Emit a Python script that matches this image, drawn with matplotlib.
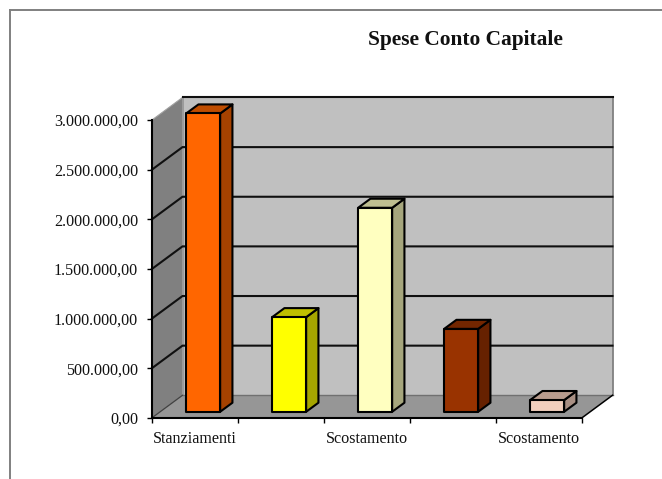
import matplotlib
matplotlib.use("Agg")
import matplotlib.pyplot as plt
from matplotlib.patches import Polygon

plt.rcParams['font.family'] = ['Liberation Serif', 'DejaVu Serif']

TITLE = 'Spese Conto Capitale'
categories = ['Stanziamenti', '', 'Scostamento', '', 'Scostamento']
values = [3005000, 953000, 2055000, 835000, 118000]
y_ticks = [0, 500000, 1000000, 1500000, 2000000, 2500000, 3000000]
y_labels = ['0,00', '500.000,00', '1.000.000,00', '1.500.000,00',
            '2.000.000,00', '2.500.000,00', '3.000.000,00']
front_colors = ['#FF6600', '#FFFF00', '#FFFFC0', '#993300', '#F2CFBD']
side_colors = ['#A64200', '#A6A600', '#A6A67D', '#662100', '#A88F83']
top_colors = ['#BF4D00', '#BFBF00', '#BFBF90', '#732600', '#B89C8E']

W, H = 662, 479
# depth of the 3d box, in data units
DEPTH_X = 30.5 / 86
DEPTH_Y = 22.5 / 49.6 * 500000
BAR_WIDTH = 34 / 86
BAR_Z0, BAR_Z1 = 0.267, 0.67
YMAX = 3000000


def proj(x, y, z):
    return (x + z * DEPTH_X, y + z * DEPTH_Y)


def poly(ax, pts, color, edge='none', lw=0, z=1):
    ax.add_patch(Polygon(pts, closed=True, facecolor=color, edgecolor=edge,
                         linewidth=lw, zorder=z, clip_on=False,
                         joinstyle='round'))


fig = plt.figure(figsize=(W / 100, H / 100), dpi=100)
ax = fig.add_axes([152 / W, (H - 417.8) / H, 430 / W, 297.8 / H])
ax.set_xlim(0, 5)
ax.set_ylim(0, YMAX)
ax.patch.set_visible(False)

# walls and floor
poly(ax, [proj(0, 0, 1), proj(5, 0, 1), proj(5, YMAX, 1), proj(0, YMAX, 1)], '#C0C0C0')
poly(ax, [proj(0, 0, 0), proj(0, 0, 1), proj(0, YMAX, 1), proj(0, YMAX, 0)], '#808080')
poly(ax, [proj(0, 0, 0), proj(5, 0, 0), proj(5, 0, 1), proj(0, 0, 1)], '#969696')

# box edges
for a, b, c, lw in [
    (proj(0, 0, 1), proj(0, YMAX, 1), '#989898', 1.3),
    (proj(5, 0, 1), proj(5, YMAX, 1), '#808080', 1.3),
    (proj(0, 0, 1), proj(5, 0, 1), '#707070', 1.0),
    (proj(5, 0, 0), proj(5, 0, 1), 'black', 1.1),
    (proj(0, 0, 0), proj(0, 0, 1), '#404040', 0.9),
    (proj(0, YMAX, 0), proj(0, YMAX, 1), '#A0A0A0', 0.8),
]:
    ax.plot([a[0], b[0]], [a[1], b[1]], color=c, lw=lw, zorder=2, clip_on=False)

# gridlines, bent along left wall and back wall
for t in y_ticks[1:]:
    pts = [proj(0, t, 0), proj(0, t, 1), proj(5, t, 1)]
    if t == YMAX:
        pts = pts[1:]
    ax.plot([p[0] for p in pts], [p[1] for p in pts], color='#101010', lw=1.5,
            zorder=3, clip_on=False, solid_joinstyle='miter')

# bars
for i, v in enumerate(values):
    x0 = i + 0.5 - BAR_WIDTH / 2
    x1 = i + 0.5 + BAR_WIDTH / 2
    a = proj(x0, 0, BAR_Z0)
    b = proj(x1, 0, BAR_Z0)
    c = proj(x1, v, BAR_Z0)
    d = proj(x0, v, BAR_Z0)
    e = proj(x1, 0, BAR_Z1)
    f = proj(x1, v, BAR_Z1)
    g = proj(x0, v, BAR_Z1)
    poly(ax, [b, e, f, c], side_colors[i], 'black', 1.5, 5)
    poly(ax, [d, c, f, g], top_colors[i], 'black', 1.5, 5)
    poly(ax, [a, b, c, d], front_colors[i], 'black', 1.5, 6)

ax.set_xticks(range(6))
ax.set_xticklabels([])
for i, name in enumerate(categories):
    ax.text(i + 0.5, -0.0715, name, transform=ax.get_xaxis_transform(),
            ha='center', va='center', fontsize=11.6, color='#111111')
ax.set_yticks(y_ticks)
ax.set_yticklabels(y_labels, fontsize=11.6, color='#111111')
ax.tick_params(axis='both', length=3.5, width=1.0, color='black', pad=6.5)
for s in ['top', 'right']:
    ax.spines[s].set_visible(False)
for s in ['left', 'bottom']:
    ax.spines[s].set_linewidth(1.5)
    ax.spines[s].set_zorder(4)

# title and outer frame of the chart area
fig.text(465.5 / W, 1 - 40.5 / H, TITLE, ha='center', va='center',
         fontsize=15.4, fontweight='bold', color='#111111')
fig.add_artist(plt.Line2D([10 / W, 1], [1 - 10 / H, 1 - 10 / H], color='#808080', lw=1.4))
fig.add_artist(plt.Line2D([10 / W, 10 / W], [0, 1 - 10 / H], color='#808080', lw=1.4))

fig.savefig('out.png', dpi=100)
